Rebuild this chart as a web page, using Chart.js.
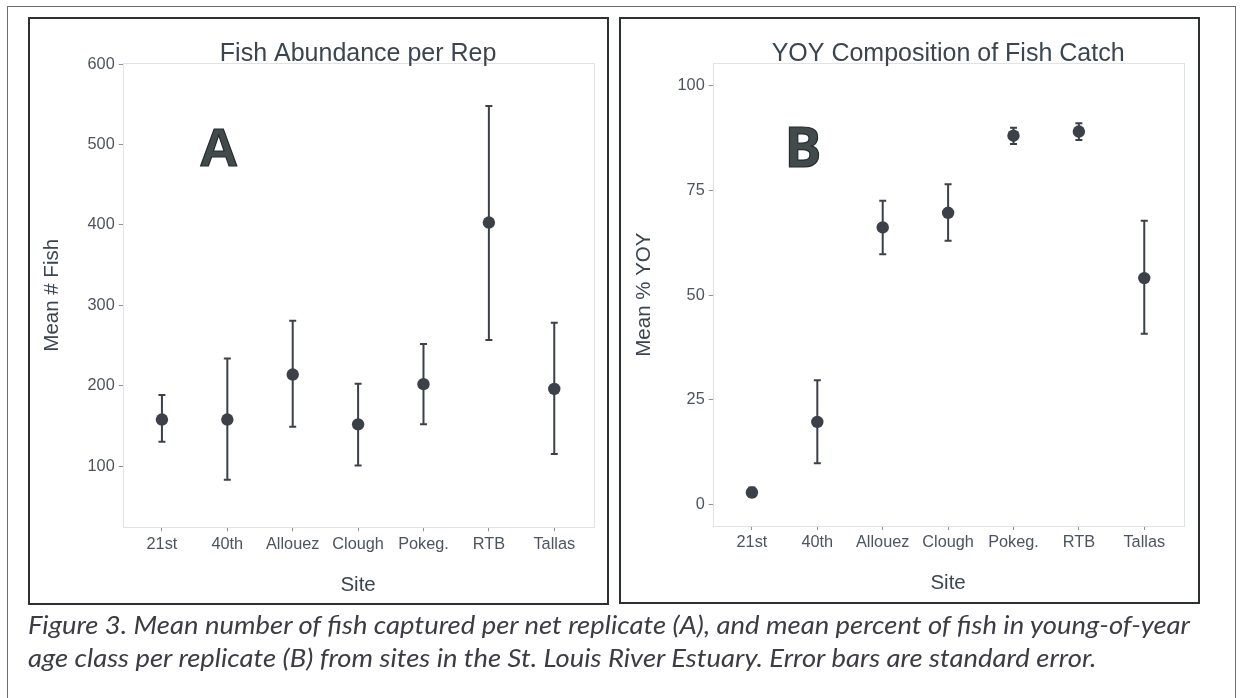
<!DOCTYPE html>
<html>
<head>
<meta charset="utf-8">
<script src="https://cdn.jsdelivr.net/npm/chart.js@4.4.1/dist/chart.umd.min.js"></script>
<style>
  html, body { margin: 0; padding: 0; background: #fff; }
  body { width: 1245px; height: 698px; overflow: hidden; position: relative; }
  .frame { position: absolute; left: 7px; top: 6px; width: 1229px; height: 720px; border: 1px solid #6b6b6b; box-sizing: border-box; }
  .panel { position: absolute; border: 2px solid #2d3230; box-sizing: border-box; pointer-events: none; }
  canvas { position: absolute; }
  .cap { position: absolute; left: 28px; font-family: Lato, "Open Sans", sans-serif; font-style: italic; font-size: 25px;
         line-height: 1; color: #3b3c44; white-space: nowrap; transform-origin: 0 0; }
</style>
</head>
<body>
<div class="frame"></div>
<canvas id="chartA" width="581" height="588" style="left:28px;top:17px"></canvas>
<canvas id="chartB" width="581" height="587" style="left:619px;top:17px"></canvas>
<div class="panel" style="left:28px;top:17px;width:581px;height:588px"></div>
<div class="panel" style="left:619px;top:17px;width:581px;height:587px"></div>
<div class="cap" id="cap1" style="top:612px">Figure 3. Mean number of fish captured per net replicate (A), and mean percent of fish in young-of-year</div>
<div class="cap" id="cap2" style="top:645px">age class per replicate (B) from sites in the St. Louis River Estuary. Error bars are standard error.</div>

<script>
// Sampling sites along the x axis
const sites = ['21st', '40th', 'Allouez', 'Clough', 'Pokeg.', 'RTB', 'Tallas'];

// Panel A: mean number of fish per net replicate, with standard-error limits
const fishMean = [158, 158, 214, 152, 202, 403, 196];
const fishLow  = [130.5, 83, 149, 101, 152, 257, 115];
const fishHigh = [188.5, 234, 281, 202.5, 252, 548, 278.5];
const fishTicks = [100, 200, 300, 400, 500, 600];

// Panel B: mean percent young-of-year, with standard-error limits
const yoyMean = [2.9, 19.75, 66.2, 69.7, 88.1, 89.1, 54.1];
const yoyLow  = [1.8, 9.9, 59.8, 63.0, 86.1, 87.1, 40.8];
const yoyHigh = [4.1, 29.7, 72.6, 76.5, 90.0, 91.1, 67.8];
const yoyTicks = [0, 25, 50, 75, 100];

const SANS = "'Liberation Sans', Arial, sans-serif";
const TICK_COLOR = '#4d5360';
const TITLE_COLOR = '#3b4550';
const MARK_COLOR = '#3c4048';

// Draws the light panel outline, the error bars, the heading and the big panel letter
function panelDecor(opts) {
  return {
    id: 'panelDecor',
    beforeDatasetsDraw(chart) {
      const { ctx, chartArea: a, scales: { x, y } } = chart;
      ctx.save();
      ctx.strokeStyle = '#dfe2e8';
      ctx.lineWidth = 1;
      ctx.strokeRect(Math.round(a.left) + 0.5, Math.round(a.top) + 0.5,
                     Math.round(a.width), Math.round(a.height));
      ctx.strokeStyle = MARK_COLOR;
      ctx.lineWidth = 2;
      opts.low.forEach((lo, i) => {
        const px = x.getPixelForValue(i);
        const y1 = y.getPixelForValue(lo);
        const y2 = y.getPixelForValue(opts.high[i]);
        ctx.beginPath();
        ctx.moveTo(px, y1); ctx.lineTo(px, y2);
        ctx.moveTo(px - 3.5, y1); ctx.lineTo(px + 3.5, y1);
        ctx.moveTo(px - 3.5, y2); ctx.lineTo(px + 3.5, y2);
        ctx.stroke();
      });
      ctx.restore();
    },
    afterDraw(chart) {
      const { ctx, chartArea: a, scales: { x, y } } = chart;
      ctx.save();
      ctx.fillStyle = TITLE_COLOR;
      ctx.font = '25px ' + SANS;
      ctx.textAlign = 'center';
      ctx.textBaseline = 'alphabetic';
      ctx.fillText(opts.title, (a.left + a.right) / 2, 43.5);
      ctx.font = opts.letterFont;
      ctx.fillStyle = '#414b4c';
      ctx.strokeStyle = '#262c2e';
      ctx.lineWidth = 1.2;
      const lx = x.getPixelForValue(opts.letterAt[0]);
      const ly = y.getPixelForValue(opts.letterAt[1]);
      ctx.fillText(opts.letter, lx, ly);
      ctx.strokeText(opts.letter, lx, ly);
      ctx.restore();
    }
  };
}

function makeChart(id, o) {
  return new Chart(document.getElementById(id), {
    type: 'scatter',
    data: {
      datasets: [{
        data: o.mean.map((m, i) => ({ x: i, y: m })),
        pointRadius: 6.2,
        pointHoverRadius: 6.2,
        pointBackgroundColor: MARK_COLOR,
        pointBorderWidth: 0,
        borderWidth: 0,
        showLine: false
      }]
    },
    options: {
      responsive: false,
      animation: false,
      devicePixelRatio: 1,
      events: [],
      layout: { padding: { top: o.padTop, right: o.padRight, left: 0, bottom: 0 } },
      plugins: { legend: { display: false }, tooltip: { enabled: false }, title: { display: false } },
      scales: {
        x: {
          type: 'linear',
          min: -0.6,
          max: 6.6,
          afterFit: s => { s.height = o.xAxisHeight; },
          afterBuildTicks: s => { s.ticks = sites.map((_, i) => ({ value: i })); },
          ticks: {
            callback: v => sites[v],
            color: TICK_COLOR,
            font: { family: SANS, size: 16.3 },
            padding: 3,
            maxRotation: 0,
            autoSkip: false
          },
          grid: { drawOnChartArea: false, drawTicks: true, tickLength: 4, color: '#8d929c', lineWidth: 1 },
          border: { display: false },
          title: {
            display: true, text: 'Site', color: TITLE_COLOR,
            font: { family: SANS, size: 20.5 },
            padding: { top: 0, bottom: o.xTitlePad }
          }
        },
        y: {
          min: o.yMin,
          max: o.yMax,
          afterFit: s => { s.width = o.yAxisWidth; },
          afterBuildTicks: s => { s.ticks = o.ticks.map(v => ({ value: v })); },
          ticks: {
            color: TICK_COLOR,
            font: { family: SANS, size: 16.3 },
            padding: 4
          },
          grid: { drawOnChartArea: false, drawTicks: true, tickLength: 4, color: '#8d929c', lineWidth: 1 },
          border: { display: false },
          title: {
            display: true, text: o.yTitle, color: TITLE_COLOR,
            font: { family: SANS, size: 20.5 },
            padding: { top: o.yTitlePad, bottom: 0 }
          }
        }
      }
    },
    plugins: [panelDecor({
      low: o.low, high: o.high, title: o.title,
      letter: o.letter, letterAt: o.letterAt, letterFont: o.letterFont
    })]
  });
}

makeChart('chartA', {
  mean: fishMean, low: fishLow, high: fishHigh, ticks: fishTicks,
  yMin: 24, yMax: 601,
  title: 'Fish Abundance per Rep', yTitle: 'Mean # Fish',
  letter: 'A', letterAt: [0.87, 472.7], letterFont: 'bold 54px ' + SANS,
  padTop: 46.3, padRight: 15.5, yAxisWidth: 94.7, xAxisHeight: 77.7,
  xTitlePad: 7.7, yTitlePad: 12
});

makeChart('chartB', {
  mean: yoyMean, low: yoyLow, high: yoyHigh, ticks: yoyTicks,
  yMin: -5.1, yMax: 105.4,
  title: 'YOY Composition of Fish Catch', yTitle: 'Mean % YOY',
  letter: 'B', letterAt: [0.78, 80.7], letterFont: "bold 55px 'Open Sans', sans-serif",
  padTop: 46.3, padRight: 16.5, yAxisWidth: 93.7, xAxisHeight: 78,
  xTitlePad: 8.4, yTitlePad: 13
});

// Caption lines are set to the width of the text column
(function fitCaption() {
  const c1 = document.getElementById('cap1');
  const c2 = document.getElementById('cap2');
  const k = 1162 / c1.getBoundingClientRect().width;
  c1.style.transform = 'scaleX(' + k + ')';
  c2.style.transform = 'scaleX(' + k + ')';
})();
</script>
</body>
</html>
